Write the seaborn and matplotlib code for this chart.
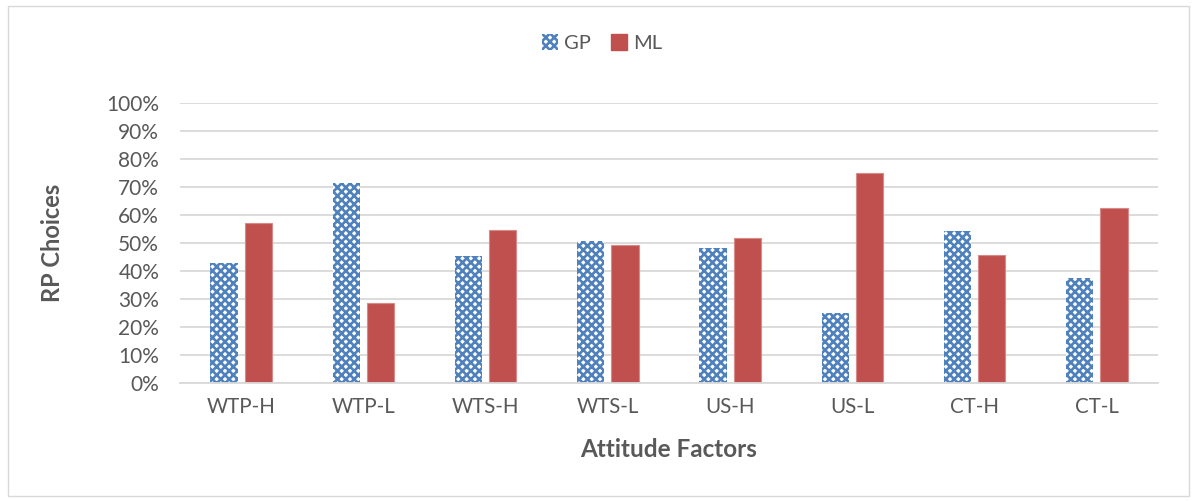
import matplotlib
matplotlib.use("Agg")
import matplotlib.pyplot as plt
import seaborn as sns
import pandas as pd
from matplotlib.patches import Rectangle, Patch

categories = ["WTP-H", "WTP-L", "WTS-H", "WTS-L", "US-H", "US-L", "CT-H", "CT-L"]
gp_values = [42.9, 71.4, 45.2, 50.7, 48.3, 25.0, 54.4, 37.5]
ml_values = [57.1, 28.6, 54.8, 49.3, 51.7, 75.0, 45.6, 62.5]
series_names = ["GP", "ML"]
y_ticks = [0, 10, 20, 30, 40, 50, 60, 70, 80, 90, 100]

df = pd.DataFrame({
    "cat": categories * 2,
    "series": [series_names[0]] * len(categories) + [series_names[1]] * len(categories),
    "value": [v / 100 for v in gp_values] + [v / 100 for v in ml_values],
})

sns.set_theme(style="white")
plt.rcParams["font.family"] = ["Lato", "DejaVu Sans"]
plt.rcParams["hatch.linewidth"] = 1.9

BLUE = "#4F81BD"
RED = "#C0504D"
TXT = "#595959"

fig = plt.figure(figsize=(11.92, 5.01), dpi=100)
ax = fig.add_axes([180 / 1192, 1 - 383 / 501, (1158 - 180) / 1192, (383 - 103) / 501])

sns.barplot(data=df, x="cat", y="value", hue="series", order=categories,
            hue_order=series_names, palette=[BLUE, RED], width=0.56, gap=0.2,
            ax=ax, legend=False, saturation=1)

n = len(categories)
for p in ax.patches[:n]:
    p.set_facecolor("white")
    p.set_edgecolor(BLUE)
    p.set_hatch("xxxx")
    p.set_linewidth(0)
for p in ax.patches[n:2 * n]:
    p.set_edgecolor("#D88A88")
    p.set_linewidth(0.8)

ax.set_ylim(0, 1)
ax.set_xlim(-0.5, n - 0.5)
ax.set_yticks([t / 100 for t in y_ticks])
ax.set_yticklabels([f"{t}%" for t in y_ticks])
ax.yaxis.grid(True, color="#D9D9D9", linewidth=1.3)
ax.set_axisbelow(True)
for s in ["left", "right", "top"]:
    ax.spines[s].set_visible(False)
ax.spines["bottom"].set_color("#D9D9D9")
ax.spines["bottom"].set_linewidth(1.3)
ax.tick_params(axis="both", length=0, colors=TXT)
ax.tick_params(axis="y", pad=15, labelsize=15)
ax.tick_params(axis="x", pad=10, labelsize=14.8)

ax.set_xlabel("Attitude Factors", fontsize=17.5, fontweight="bold", color=TXT, labelpad=15)
ax.set_ylabel("RP Choices", fontsize=17, fontweight="bold", color=TXT, labelpad=30)

handles = [Patch(facecolor="white", edgecolor=BLUE, hatch="xxxx", linewidth=0, label=series_names[0]),
           Patch(facecolor=RED, edgecolor=RED, label=series_names[1])]
fig.legend(handles=handles, loc="center", bbox_to_anchor=(0.505, 1 - 43 / 501), ncol=2,
           frameon=False, fontsize=14.5, handlelength=0.8, handleheight=0.8,
           handletextpad=0.3, columnspacing=1.0, labelcolor=TXT)

fig.patches.append(Rectangle((8 / 1192, 1 - 496 / 501), 1181 / 1192, 490 / 501,
                             transform=fig.transFigure, fill=False,
                             edgecolor="#D9D9D9", linewidth=1))

fig.savefig("out.png", dpi=100)
